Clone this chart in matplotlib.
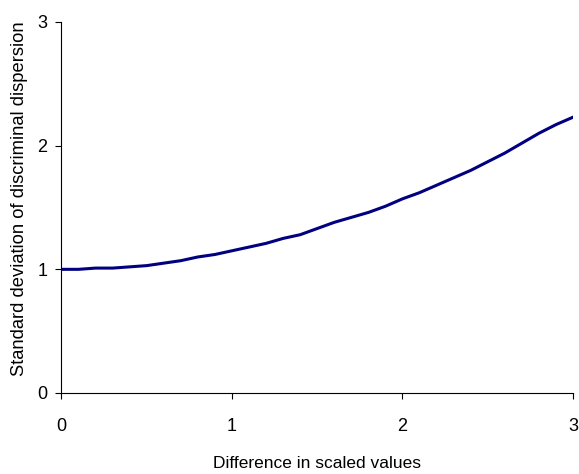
import matplotlib.pyplot as plt

plt.rcParams['font.family'] = ['Liberation Sans', 'DejaVu Sans']

diff = [0.0, 0.1, 0.2, 0.3, 0.4, 0.5, 0.6, 0.7, 0.8, 0.9, 1.0,
        1.1, 1.2, 1.3, 1.4, 1.5, 1.6, 1.7, 1.8, 1.9, 2.0,
        2.1, 2.2, 2.3, 2.4, 2.5, 2.6, 2.7, 2.8, 2.9, 3.0]
sd = [1.00, 1.00, 1.01, 1.01, 1.02, 1.03, 1.05, 1.07, 1.10, 1.12, 1.15,
      1.18, 1.21, 1.25, 1.28, 1.33, 1.38, 1.42, 1.46, 1.51, 1.57,
      1.62, 1.68, 1.74, 1.80, 1.87, 1.94, 2.02, 2.10, 2.17, 2.23]

fig = plt.figure(figsize=(5.79, 4.74), dpi=100)
ax = fig.add_axes([0.1062, 0.1709, 0.8834, 0.7827])
ax.plot(diff, sd, color='#000080', linewidth=2.2)

ax.set_xlim(0, 3)
ax.set_ylim(0, 3)
ax.set_xticks([0, 1, 2, 3])
ax.set_yticks([0, 1, 2, 3])
ax.spines['top'].set_visible(False)
ax.spines['right'].set_visible(False)
ax.tick_params(axis='x', direction='out', length=4, pad=14, labelsize=13)
ax.tick_params(axis='y', direction='out', length=4, pad=6, labelsize=13)
ax.set_xlabel("Difference in scaled values", fontsize=12.5, labelpad=15)
ax.set_ylabel("Standard deviation of discriminal dispersion", fontsize=13.2)
ax.yaxis.set_label_coords(-0.066, 0.525)

fig.savefig("out.png", dpi=100)
